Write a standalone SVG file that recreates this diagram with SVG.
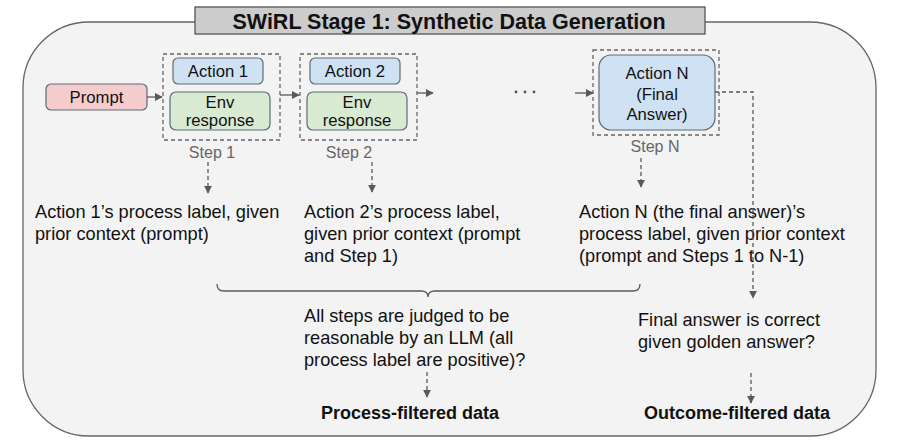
<svg xmlns="http://www.w3.org/2000/svg" width="914" height="446" viewBox="0 0 914 446">
<defs>
<marker id="ah" viewBox="0 0 10 10" refX="9" refY="5" markerWidth="8" markerHeight="8" markerUnits="userSpaceOnUse" orient="auto">
<path d="M0,0 L10,5 L0,10 z" fill="#595959"/>
</marker>
<style>
text{font-family:"Liberation Sans",Arial,sans-serif;fill:#111;}
.box{stroke:#5f6b75;stroke-width:1.2;}
.lbl{font-size:16.7px;text-anchor:middle;}
.step{font-size:16px;text-anchor:middle;fill:#666;}
.body{font-size:18.2px;}
.bold{font-size:18px;font-weight:bold;text-anchor:middle;}
.dbox{fill:none;stroke:#666;stroke-width:1.3;stroke-dasharray:4,3;}
.conn{fill:none;stroke:#595959;stroke-width:1.3;}
.dash{stroke-dasharray:4,3;}
</style>
</defs>
<rect width="914" height="446" fill="#fff"/>
<g id="frame">
<rect x="23" y="22" width="853" height="414" rx="66" ry="66" fill="#f3f3f3" stroke="#666" stroke-width="1.3"/>
</g>
<g id="title">
<rect x="195" y="7" width="510" height="27" fill="#cccccc" stroke="#555" stroke-width="1.3"/>
<text x="449" y="28.5" style="font-size:21.5px;font-weight:bold;text-anchor:middle">SWiRL Stage 1: Synthetic Data Generation</text>
</g>
<g id="prompt">
<rect class="box" x="46" y="84" width="101" height="26" rx="5" fill="#f4cccc" stroke="#7a5c5c"/>
<text class="lbl" x="96.5" y="103">Prompt</text>
</g>
<g id="step1">
<rect class="dbox" x="163" y="54" width="117" height="86"/>
<rect class="box" x="173" y="58" width="90" height="26" rx="5" fill="#cfe2f3"/>
<text class="lbl" x="218" y="77">Action 1</text>
<rect class="box" x="170" y="92" width="100" height="38" rx="6" fill="#d9ead3"/>
<text class="lbl" x="220" y="108">Env</text>
<text class="lbl" x="220" y="126">response</text>
<text class="step" x="212" y="158">Step 1</text>
</g>
<g id="step2">
<rect class="dbox" x="300" y="54" width="117" height="86"/>
<rect class="box" x="310" y="58" width="90" height="26" rx="5" fill="#cfe2f3"/>
<text class="lbl" x="355" y="77">Action 2</text>
<rect class="box" x="307" y="92" width="100" height="38" rx="6" fill="#d9ead3"/>
<text class="lbl" x="357" y="108">Env</text>
<text class="lbl" x="357" y="126">response</text>
<text class="step" x="349" y="158">Step 2</text>
</g>
<g id="ellipsis">
<circle cx="516" cy="92" r="1.4" fill="#555"/>
<circle cx="525" cy="92" r="1.4" fill="#555"/>
<circle cx="534" cy="92" r="1.4" fill="#555"/>
</g>
<g id="stepN">
<rect class="dbox" x="593" y="50" width="126" height="85"/>
<rect class="box" x="599" y="55" width="116" height="75" rx="12" fill="#cfe2f3"/>
<text class="lbl" x="657" y="79">Action N</text>
<text class="lbl" x="657" y="99.5">(Final</text>
<text class="lbl" x="657" y="120">Answer)</text>
<text class="step" x="655" y="152">Step N</text>
</g>
<g id="label1">
<text class="body" x="35" y="218">Action 1’s process label, given</text>
<text class="body" x="35" y="240">prior context (prompt)</text>
</g>
<g id="label2">
<text class="body" x="304" y="218">Action 2’s process label,</text>
<text class="body" x="304" y="240">given prior context (prompt</text>
<text class="body" x="304" y="262">and Step 1)</text>
</g>
<g id="labelN">
<text class="body" x="579" y="218">Action N (the final answer)’s</text>
<text class="body" x="579" y="240">process label, given prior context</text>
<text class="body" x="579" y="262">(prompt and Steps 1 to N-1)</text>
</g>
<g id="process-question">
<text class="body" x="304" y="322">All steps are judged to be</text>
<text class="body" x="304" y="344">reasonable by an LLM (all</text>
<text class="body" x="304" y="366">process label are positive)?</text>
</g>
<g id="outcome-question">
<text class="body" x="638" y="326">Final answer is correct</text>
<text class="body" x="638" y="348">given golden answer?</text>
</g>
<g id="process-data">
<text class="bold" x="410" y="419">Process-filtered data</text>
</g>
<g id="outcome-data">
<text class="bold" x="737" y="419">Outcome-filtered data</text>
</g>
<g id="connectors">
<line class="conn" x1="147" y1="97" x2="162" y2="97" marker-end="url(#ah)"/>
<line class="conn" x1="280" y1="95" x2="299" y2="95" marker-end="url(#ah)"/>
<line class="conn" x1="417" y1="93" x2="433" y2="93" marker-end="url(#ah)"/>
<line class="conn" x1="575" y1="93" x2="593" y2="93" marker-end="url(#ah)"/>
<line class="conn dash" x1="208" y1="162" x2="208" y2="193" marker-end="url(#ah)"/>
<line class="conn dash" x1="372" y1="162" x2="372" y2="192" marker-end="url(#ah)"/>
<line class="conn dash" x1="641" y1="158" x2="641" y2="187" marker-end="url(#ah)"/>
<polyline class="conn dash" points="715,92 753,92 753,298" marker-end="url(#ah)"/>
<path class="conn" d="M217,284 Q217,291 224,291 L421,291 Q428,291 428,297 Q428,291 435,291 L633,291 Q640,291 640,284"/>
<line class="conn dash" x1="427" y1="372" x2="427" y2="397" marker-end="url(#ah)"/>
<line class="conn dash" x1="751" y1="373" x2="751" y2="403" marker-end="url(#ah)"/>
</g>
</svg>
